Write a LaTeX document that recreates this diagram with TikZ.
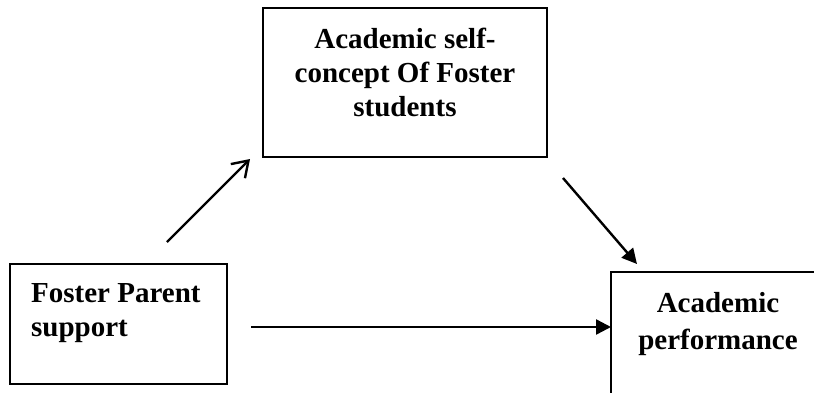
\documentclass[tikz,border=0pt]{standalone}
\usepackage{fontspec}
\setmainfont{Liberation Serif}
\usetikzlibrary{arrows.meta}
\tikzset{
  box/.style={draw=black,line width=1.8pt,inner sep=0pt},
  lbl/.style={font=\fontsize{29}{34}\selectfont\bfseries,inner sep=0pt},
  link/.style={line width=2.4pt,-{Triangle[length=15pt,width=15pt]}},
  openlink/.style={line width=2.4pt,-{Straight Barb[length=15pt,width=20pt]}}
}
\begin{document}
\begin{tikzpicture}[x=1pt,y=-1pt]
    \useasboundingbox (0,0) rectangle (814,392);
    \clip (0,0) rectangle (814,392);
    \node [box,minimum width=284pt,minimum height=149pt] (selfbox) at (405,82.5) {};
    \node [box,minimum width=217pt,minimum height=120pt] (parentbox) at (118.5,324) {};
    \node [box,minimum width=215pt,minimum height=128pt] (perfbox) at (718.5,336) {};
    \node [lbl,align=center,anchor=north] (selftext) at (405,28) {Academic self-\\concept Of Foster\\students};
    \node [lbl,align=left,anchor=north west] (parenttext) at (31,283) {Foster Parent\\support};
    \node [lbl,font=\fontsize{29}{37}\selectfont\bfseries,align=center,anchor=north] (perftext) at (718,292) {Academic\\performance};
    \coordinate (upfrom) at (167,242);
    \coordinate (upto) at (250,159);
    \coordinate (downfrom) at (563,178);
    \coordinate (downto) at (637,264);
    \coordinate (acrossfrom) at (251,327);
    \coordinate (acrossto) at (611,327);
    \draw [openlink] (upfrom) -- (upto);
    \draw [link] (downfrom) -- (downto);
    \draw [link] (acrossfrom) -- (acrossto);
\end{tikzpicture}
\end{document}
